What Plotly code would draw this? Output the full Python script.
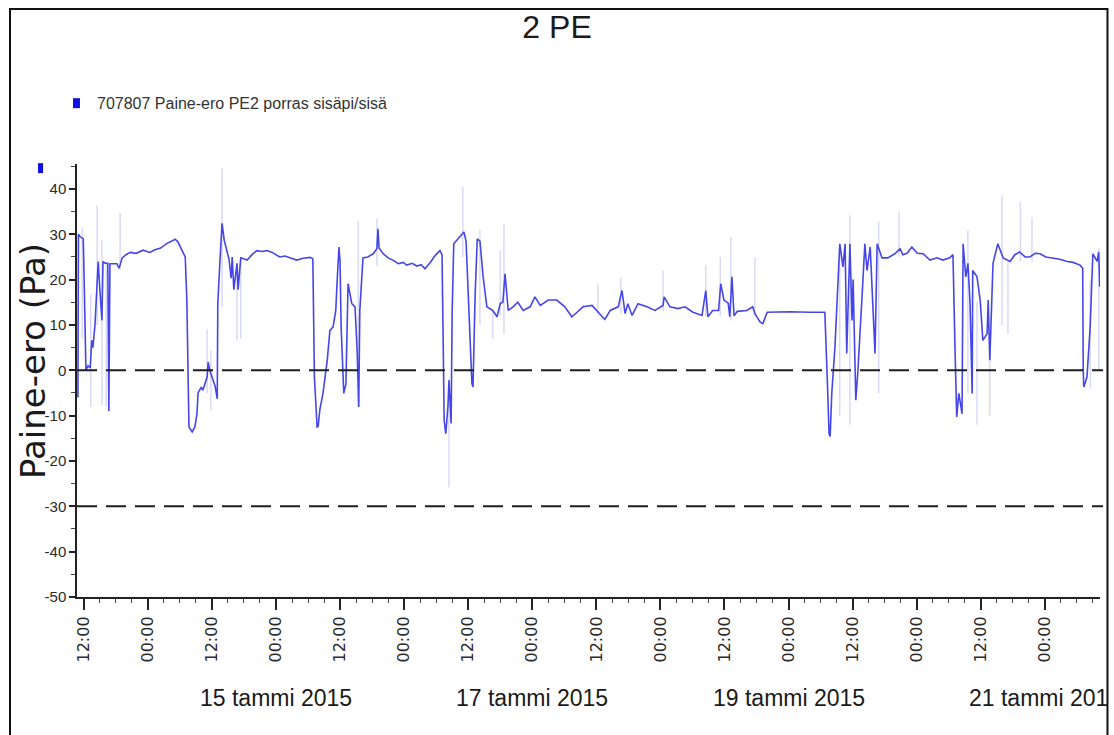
import pandas as pd
import plotly.graph_objects as go

# Time base of the logged series
START = pd.Timestamp("2015-01-13 00:00")

# Pressure difference, stair PE2 (indoor / indoor), hours from 13.1.2015 00:00
hours = [
    10.9, 11.0, 11.3, 11.9, 12.0, 12.2, 12.4, 12.8, 13.2, 13.5, 13.7, 14.1, 14.7, 15.0,
    15.4, 15.6, 16.0, 16.5, 16.7, 16.9, 18.2, 18.6, 19.2, 19.9, 20.7, 21.8, 23.1, 24.4,
    25.3, 26.3, 27.6, 28.5, 29.1, 29.6, 30.2, 31.0, 31.3, 31.5, 31.7, 32.3, 32.8, 33.2,
    33.4, 34.0, 34.3, 35.1, 35.3, 35.6, 36.2, 36.6, 37.0, 37.1, 37.5, 37.9, 38.3, 38.8,
    39.2, 39.6, 39.8, 40.1, 40.7, 40.9, 41.4, 42.6, 43.5, 44.4, 45.4, 46.3, 47.3, 48.7,
    49.7, 50.6, 51.9, 53.1, 54.4, 54.9, 55.0, 55.2, 55.7, 55.9, 56.2, 56.8, 57.6, 58.1,
    58.7, 59.2, 59.4, 59.8, 60.0, 60.2, 60.7, 61.1, 61.5, 61.9, 62.2, 62.8, 63.2, 63.5,
    63.7, 64.3, 65.2, 66.2, 66.9, 67.1, 67.3, 68.0, 69.0, 69.9, 70.9, 71.8, 72.5, 73.5,
    74.4, 75.2, 75.9, 76.9, 77.8, 78.7, 79.1, 79.3, 79.5, 79.8, 80.2, 80.4, 80.8, 81.0,
    81.3, 82.1, 83.2, 83.6, 84.2, 84.7, 84.9, 85.3, 85.7, 86.2, 86.8, 87.5, 88.6, 89.4,
    90.0, 90.5, 90.9, 91.5, 92.4, 93.3, 94.3, 95.6, 96.5, 97.5, 99.0, 100.6, 102.1, 103.4,
    104.4, 105.5, 107.2, 108.1, 109.1, 109.6, 110.6, 112.1, 112.8, 113.4, 113.9, 114.7,
    115.8, 117.5, 119.0, 120.5, 120.7, 121.8, 123.3, 124.6, 126.1, 127.8, 128.5, 128.9,
    129.8, 130.9, 131.3, 131.9, 132.7, 133.0, 133.4, 133.8, 134.4, 136.2, 137.3, 137.7,
    138.7, 139.2, 140.0, 144.3, 148.0, 150.8, 151.2, 151.6, 151.8, 152.1, 152.7, 153.1,
    153.6, 154.2, 154.6, 154.9, 155.5, 155.9, 156.1, 156.6, 157.0, 157.8, 158.3, 158.7,
    159.3, 160.2, 160.6, 161.5, 162.6, 163.9, 164.9, 165.4, 166.2, 167.1, 168.1, 169.2,
    170.5, 171.8, 172.9, 174.2, 174.8, 175.2, 175.5, 175.9, 176.5, 176.7, 177.2, 177.6,
    178.0, 178.4, 178.5, 179.3, 179.9, 180.4, 181.2, 181.4, 181.7, 182.3, 183.2, 184.2,
    185.5, 186.4, 187.3, 188.3, 189.2, 190.2, 191.1, 192.2, 193.5, 194.8, 196.2, 197.3,
    198.6, 199.1, 199.2, 199.3, 199.9, 200.5, 201.0, 201.8, 202.1, 202.3,
]
paine_ero = [
    -6, 30, 29.5, 29, 24, 11, 0, 1, 0.5, 6.6, 5, 10, 24, 18,
    11, 24, 23.6, 23.6, -9, 23.5, 23.5, 22.5, 24.8, 25.5, 26, 25.8, 26.5, 26,
    26.6, 26.9, 28, 28.5, 28.9, 28.4, 27, 25, 15.8, -1.5, -12.5, -13.6, -12.5, -9.6,
    -5, -3.7, -4.4, -1.5, 1.8, 0, -2.2, -3.5, -6.3, 14.6, 24, 32.4, 28.7, 26.5,
    24.5, 20.3, 25, 17.8, 23.6, 17.8, 24.8, 24.3, 25.5, 26.4, 26.2, 26.4, 26, 25,
    25.2, 24.8, 24.3, 24.7, 24.9, 24.6, 16, -1.5, -12.5, -12.4, -8.8, -5.1, 2.2, 8.8,
    9.6, 13.2, 18.4, 27.2, 24, 9.6, -5.1, -3, 19.1, 16, 14.7, 14, 4.4, -8.1,
    13.2, 24.8, 25, 25.7, 26.8, 31.2, 27, 25.8, 24.8, 24.3, 23.5, 23.8, 23.2, 23.6,
    23, 23.3, 22.4, 23.8, 25.3, 26.4, 25.5, 8.1, -11, -14, -8.1, -2.2, -11.7, 13.2,
    27.9, 29, 30.5, 28.5, 9.6, -2.9, -3.7, 16.6, 29, 28.5, 20.6, 14, 13.2, 11.8,
    14.7, 15, 21.3, 13.2, 14, 15, 13.2, 14, 16.2, 14.3, 15.5, 15.5, 14, 11.8,
    12.8, 14, 14.3, 13.2, 11.8, 11.2, 13.2, 14, 17.6, 12.5, 14.7, 12.1,
    14.7, 14, 13.2, 14.3, 16.2, 14, 13.6, 14, 12.8, 12.1, 17.6, 11.8,
    13.2, 13.2, 19.1, 15.5, 14.8, 11.8, 20.6, 12, 13, 13.2, 14, 12.5,
    10.6, 10.3, 12.8, 12.9, 12.8, 12.8, 0, -14, -14.6, -5.1, 5.2, 16.9,
    27.9, 22.8, 27.9, 3.7, 27.9, 11, 20, -6.6, 0, 16.9, 27.9, 22,
    27.2, 3.7, 27.9, 24.8, 24.8, 25.7, 26.8, 25.5, 25.8, 27.2, 25.8, 25.7,
    24.3, 24.8, 24.3, 24.8, 25.5, 4, -10.3, -5.1, -9.6, 27.9, 20.6, 23.6,
    14.7, -5.1, 22, 20.6, 15.5, 6.6, 8.1, 15.5, 2.2, 23.6, 27.9, 24.8,
    24, 25.5, 26.1, 25, 25, 25.8, 25.7, 25, 24.8, 24.5, 24, 23.8,
    23.2, 22.5, 0, -3.7, -1.5, 9.6, 25.7, 24, 26.1, 18.4,
]

# Short peaks between stored samples: time, lowest and highest reading
spike_hours = [
    11.7, 13.3, 14.5, 15.4, 16.2, 18.8, 35.1, 35.8, 37.9, 40.7, 41.4, 63.4, 66.9,
    80.4, 83.0, 86.2, 88.6, 90.0, 90.7, 108.3, 112.6, 120.5, 128.5, 131.2, 133.2,
    137.7, 153.6, 155.5, 160.9, 164.7, 177.6, 179.3, 181.7, 184.0, 185.1, 187.4,
    189.6, 200.5, 202.1,
]
spike_min = [
    7, -8.1, 10, -7.7, -8, 22, -5.1, -8.8, 14, 6.6, 7, -8, 23,
    -25.8, 25, 10, 7, 12, 8, 12, 12.5, 13, 12, 12, 11,
    12, -10, -12, -5, 25, -5, -12, -10, 10, 8.1, 24,
    24, -4, 0,
]
spike_max = [
    31.5, 16.6, 36.4, 28.7, 24, 34.7, 9, 4.4, 44.6, 23.6, 25, 33, 33.4,
    -2, 40.5, 31, 13, 26.5, 32.4, 19.1, 20.5, 22, 23.2, 25, 29.4,
    24.8, 27.9, 34.2, 32.8, 35, 30.9, 15, 5, 38.4, 24, 37.1,
    33.7, 20, 27,
]

# Alarm limits (Pa)
limit_levels = [0, -30]

# Axis labelling
x_start, x_end = 10.73, 202.34
tick_times = pd.date_range("2015-01-13 12:00", "2015-01-21 00:00", freq="12h")
tick_text = [t.strftime("%H:%M") for t in tick_times]
date_days = ["2015-01-15", "2015-01-17", "2015-01-19", "2015-01-21"]
date_labels = ["15 tammi 2015", "17 tammi 2015", "19 tammi 2015", "21 tammi 2015"]
y_ticks = [-50, -40, -30, -20, -10, 0, 10, 20, 30, 40]
y_tick_text = ["-50", "-40", "-30", "-20", "-10", "0", "10", "20", "30", "40"]

NARROW = "Liberation Sans Narrow, Liberation Sans, Arial, sans-serif"
WIDE = "DejaVu Sans, Verdana, sans-serif"
LINE_BLUE = "#4646e8"
SERIES_NAME = "707807 Paine-ero PE2 porras sisäpi/sisä"

times = START + pd.to_timedelta(hours, unit="h")

spike_x, spike_y = [], []
for h, lo, hi in zip(spike_hours, spike_min, spike_max):
    t = START + pd.Timedelta(hours=h)
    spike_x += [t, t, None]
    spike_y += [lo, hi, None]

fig = go.Figure()
fig.add_trace(go.Scatter(
    x=spike_x, y=spike_y, mode="lines",
    line=dict(color="rgba(120,120,235,0.35)", width=1.2),
    showlegend=False, hoverinfo="skip",
))
fig.add_trace(go.Scatter(
    x=times, y=paine_ero, mode="lines", name=SERIES_NAME,
    line=dict(color=LINE_BLUE, width=1.6),
    showlegend=False,
))

# dashed limit lines
for lvl in limit_levels:
    fig.add_shape(type="line", xref="paper", x0=0, x1=1.003, yref="y", y0=lvl, y1=lvl,
                  line=dict(color="#1e1e1e", width=2, dash="20px,9px"), layer="above")

# outer frame of the chart
fig.add_shape(type="rect", xref="paper", yref="paper",
              x0=-0.0655, x1=1.0073, y0=-0.36, y1=1.358,
              line=dict(color="#111", width=2))

# legend entry and the axis colour key
fig.add_shape(type="rect", xref="paper", yref="paper",
              x0=-0.0039, x1=0.0029, y0=1.129, y1=1.152,
              fillcolor="#1010e0", line=dict(width=0))
fig.add_shape(type="rect", xref="paper", yref="paper",
              x0=-0.0381, x1=-0.0332, y0=0.979, y1=1.002,
              fillcolor="#1010e0", line=dict(width=0))
fig.add_annotation(text=SERIES_NAME, xref="paper", yref="paper", x=0.0176, y=1.1386,
                   xanchor="left", yanchor="middle", showarrow=False,
                   font=dict(family=NARROW, size=16, color="#333"))

# y axis title
fig.add_annotation(text="Paine-ero (Pa)", xref="paper", yref="paper", x=-0.043, y=0.545,
                   textangle=-90, xanchor="center", yanchor="middle", showarrow=False,
                   font=dict(family=WIDE, size=34, color="#1a1a1a"))

# day labels under the time ticks
for day, label in zip(date_days, date_labels):
    fig.add_annotation(text=label, x=pd.Timestamp(day), xref="x", y=0, yref="paper",
                       yshift=-101, xanchor="center", yanchor="middle", showarrow=False,
                       font=dict(family=NARROW, size=23, color="#1a1a1a"))

fig.update_layout(
    width=1109, height=735,
    margin=dict(l=77, r=9, t=164, b=138),
    paper_bgcolor="white", plot_bgcolor="white",
    title=dict(text="2 PE", xref="container", x=0.5023, xanchor="center",
               yref="container", y=0.963, yanchor="middle",
               font=dict(family=NARROW, size=32, color="#1a1a1a")),
    xaxis=dict(
        range=[START + pd.Timedelta(hours=x_start), START + pd.Timedelta(hours=x_end)],
        tickvals=tick_times, ticktext=tick_text, tickangle=-90,
        ticks="outside", ticklen=11, tickwidth=1.5, tickcolor="#222",
        tickfont=dict(family=WIDE, size=16, color="#2a2a2a"),
        showline=True, linecolor="#222", linewidth=2,
        showgrid=False, zeroline=False,
        minor=dict(dtick=3 * 3600 * 1000, ticks="outside", ticklen=4,
                   tickwidth=1, tickcolor="#444", showgrid=False),
    ),
    yaxis=dict(
        range=[-50, 45.5], tickvals=y_ticks, ticktext=y_tick_text,
        ticks="outside", ticklen=6, tickwidth=1.5, tickcolor="#222",
        tickfont=dict(family=NARROW, size=15, color="#2a2a2a"),
        showline=True, linecolor="#222", linewidth=1.5,
        showgrid=False, zeroline=False,
        minor=dict(dtick=5, ticks="outside", ticklen=4, tickwidth=1,
                   tickcolor="#444", showgrid=False),
    ),
)

fig.write_html("out.html")
